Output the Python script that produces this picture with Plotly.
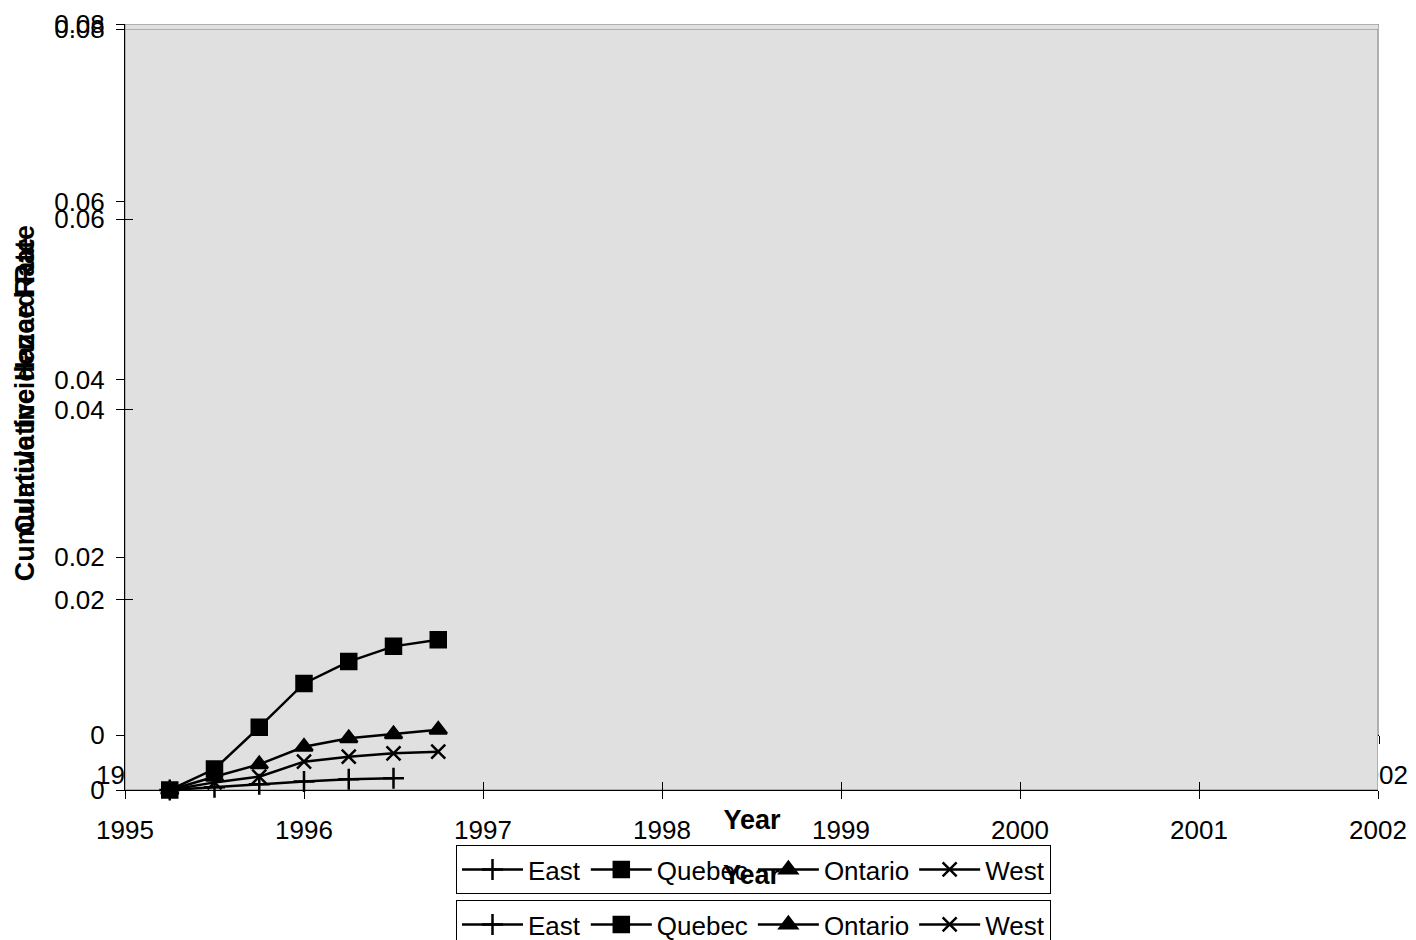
import plotly.graph_objects as go

# ---------------- data ----------------
quarters = [1995.25, 1995.5, 1995.75, 1996.0, 1996.25, 1996.5, 1996.75]
east = [0.0, 0.0003, 0.0006, 0.0009, 0.00112, 0.00123]
quebec = [0.0, 0.0022, 0.0066, 0.0112, 0.0135, 0.0151, 0.0158]
ontario = [0.0, 0.0014, 0.0027, 0.00455, 0.00543, 0.00586, 0.00634]
west = [0.0, 0.0008, 0.0014, 0.00298, 0.0035, 0.00386, 0.00403]

year_ticks = [1995, 1996, 1997, 1998, 1999, 2000, 2001, 2002]
year_labels = ["1995", "1996", "1997", "1998", "1999", "2000", "2001", "2002"]
rate_ticks = [0, 0.02, 0.04, 0.06, 0.08]
rate_labels = ["0", "0.02", "0.04", "0.06", "0.08"]

x_range = [1995, 2002]
y_range = [0, 0.08]

series_names = ["East", "Quebec", "Ontario", "West"]
series_values = [east, quebec, ontario, west]
series_symbols = ["cross-thin-open", "square", "triangle-up", "x-thin-open"]
series_sizes = [15, 15, 15, 14]

# ---------------- layout helpers ----------------
W, H = 1416, 940
FONT = "Liberation Sans, Arial, sans-serif"


def fx(p):
    return p / W


def fy(p):
    return 1 - p / H


fig = go.Figure()

# chart B (behind): axes x / y, legend2
# chart A (front, with visible data): axes x2 / y2, legend
for chart, (xa, ya, leg) in enumerate([("x", "y", "legend2"), ("x2", "y2", "legend")]):
    for name, vals, sym, sz in zip(series_names, series_values, series_symbols, series_sizes):
        fig.add_trace(go.Scatter(
            x=quarters[:len(vals)], y=vals, name=name, mode="lines+markers",
            xaxis=xa, yaxis=ya, legend=leg, cliponaxis=False,
            line=dict(color="black", width=2.5),
            marker=dict(symbol=sym, size=sz, color="black",
                        line=dict(color="black", width=2.5)),
        ))

# dummy trace for the overlay axes that carry the inner half of chart A's cross ticks
fig.add_trace(go.Scatter(x=[None], y=[None], xaxis="x3", yaxis="y3",
                         showlegend=False, hoverinfo="skip"))

tickfont = dict(family=FONT, size=26, color="black")
titlefont = dict(family=FONT, size=27, color="black", weight="bold")
legfont = dict(family=FONT, size=26, color="black")

common_x = dict(range=x_range, tickmode="array", tickvals=year_ticks, ticktext=year_labels,
                showgrid=False, zeroline=False, showline=True, linecolor="black", linewidth=1,
                ticks="outside", ticklen=8, tickcolor="black", tickwidth=1,
                tickfont=tickfont, ticklabelstandoff=9)
common_y = dict(range=y_range, tickmode="array", tickvals=rate_ticks, ticktext=rate_labels,
                showgrid=False, zeroline=False, showline=True, linecolor="black", linewidth=1,
                ticks="outside", ticklen=8, tickcolor="black", tickwidth=1,
                tickfont=tickfont, ticklabelstandoff=6)

fig.update_layout(
    width=W, height=H,
    margin=dict(l=0, r=0, t=0, b=0, autoexpand=False),
    paper_bgcolor="white",
    plot_bgcolor="rgba(0,0,0,0)",
    font=dict(family=FONT, size=26, color="black"),
    xaxis=dict(domain=[fx(125), fx(1379)], anchor="y",
               title=dict(text="Year", font=titlefont, standoff=20), **common_x),
    yaxis=dict(domain=[fy(735), fy(24)], anchor="x",
               title=dict(text="Cumulative Hazard Rate", font=titlefont, standoff=11), **common_y),
    xaxis2=dict(domain=[fx(125), fx(1378)], anchor="y2",
                title=dict(text="Year", font=titlefont, standoff=20), **common_x),
    yaxis2=dict(domain=[fy(790), fy(29)], anchor="x2",
                title=dict(text="Cumulative Incidence Rate", font=titlefont, standoff=11), **common_y),
    xaxis3=dict(overlaying="x2", anchor="y3", range=x_range, tickmode="array",
                tickvals=year_ticks, showticklabels=False, showgrid=False, zeroline=False,
                showline=False, ticks="inside", ticklen=8, tickcolor="black", tickwidth=1),
    yaxis3=dict(overlaying="y2", anchor="x3", range=y_range, tickmode="array",
                tickvals=rate_ticks, showticklabels=False, showgrid=False, zeroline=False,
                showline=False, ticks="inside", ticklen=8, tickcolor="black", tickwidth=1),
    legend=dict(x=fx(456), y=fy(900), xanchor="left", yanchor="top", orientation="h",
                bgcolor="rgba(0,0,0,0)", bordercolor="black", borderwidth=1,
                font=legfont, itemwidth=61),
    legend2=dict(x=fx(456), y=fy(845), xanchor="left", yanchor="top", orientation="h",
                 bgcolor="rgba(0,0,0,0)", bordercolor="black", borderwidth=1,
                 font=legfont, itemwidth=61),
    showlegend=True,
)

# plot-area backgrounds, drawn inside each subplot's own layer so that
# the front chart hides the back chart's tick labels and data
for xa, ya in [("x", "y"), ("x2", "y2")]:
    fig.add_shape(type="rect", xref=xa, yref=ya, layer="below",
                  x0=x_range[0], x1=x_range[1], y0=y_range[0], y1=y_range[1],
                  fillcolor="#e0e0e0", line=dict(color="#808080", width=1))

fig.write_html("out.html")
